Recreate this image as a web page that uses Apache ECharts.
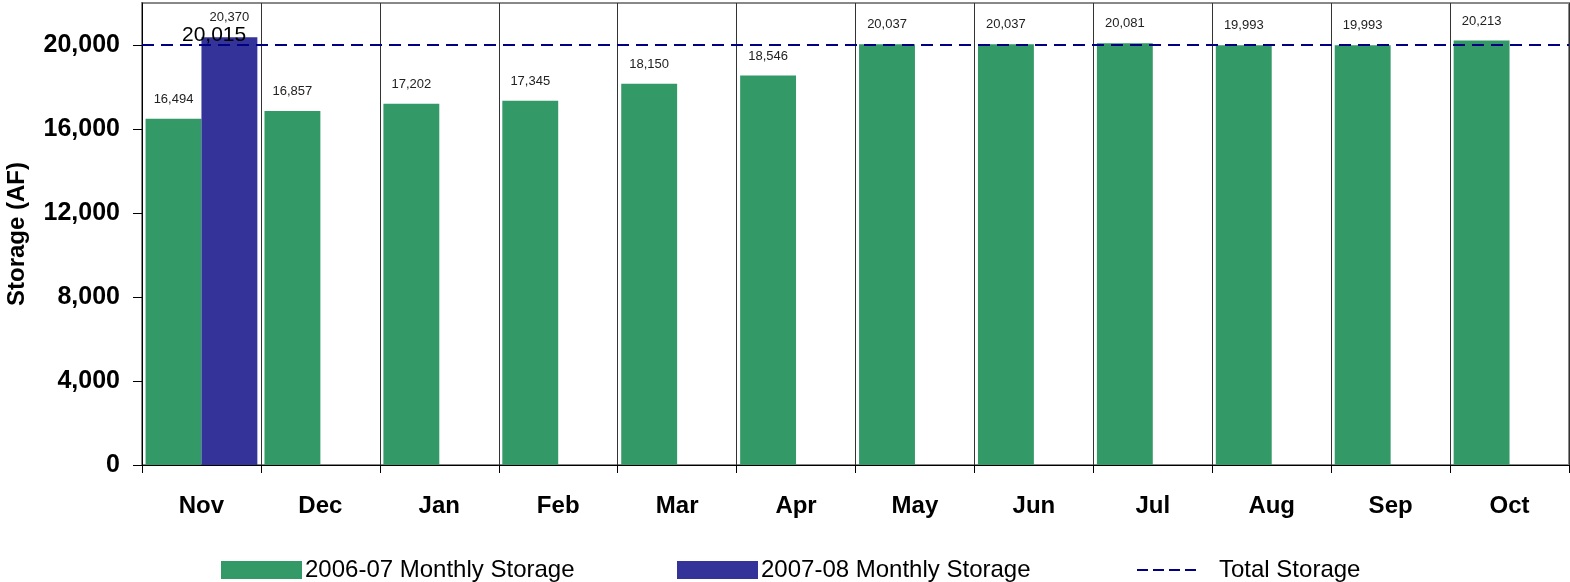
<!DOCTYPE html>
<html>
<head>
<meta charset="utf-8">
<script src="https://cdn.jsdelivr.net/npm/echarts@6/dist/echarts.min.js"></script>
<style>
  html, body { margin: 0; padding: 0; background: #fff; }
  #chart { width: 1570px; height: 582px; }
</style>
</head>
<body>
<div id="chart"></div>
<script>
// Monthly reservoir storage, acre-feet
const months = ['Nov', 'Dec', 'Jan', 'Feb', 'Mar', 'Apr', 'May', 'Jun', 'Jul', 'Aug', 'Sep', 'Oct'];
const storage2006_07 = [16494, 16857, 17202, 17345, 18150, 18546, 20037, 20037, 20081, 19993, 19993, 20213];
const storage2007_08 = [20370, null, null, null, null, null, null, null, null, null, null, null];
const totalStorage = 20015;
const yTicks = { min: 0, max: 22000, interval: 4000 };

const fmt = v => Number(v).toLocaleString('en-US');
const FONT = 'Liberation Sans, Arial, sans-serif';

// four short dashes for the capacity legend key
const DASH_ICON = 'path://M0,0h11v2h-11zM16,0h11v2h-11zM32,0h11v2h-11zM48,0h11v2h-11z';

const chart = echarts.init(document.getElementById('chart'), null, { renderer: 'canvas' });

const barLabel = {
  show: true,
  position: 'top',
  distance: 13,
  fontSize: 13,
  fontFamily: FONT,
  color: '#222',
  formatter: p => fmt(p.value)
};

const legendBase = {
  top: 553,
  itemHeight: 18,
  itemGap: 0,
  textStyle: { fontSize: 24, fontFamily: FONT, color: '#000', padding: [0, 0, 0, -2] }
};

chart.setOption({
  animation: false,
  backgroundColor: '#fff',
  grid: {
    left: 142, right: 1, top: 3, bottom: 117,
    outerBoundsMode: 'none',
    containLabel: false,
    show: true, borderColor: '#888', borderWidth: 2, backgroundColor: 'transparent'
  },
  legend: [
    Object.assign({}, legendBase, { left: 216, itemWidth: 81, icon: 'rect', data: ['2006-07 Monthly Storage'] }),
    Object.assign({}, legendBase, { left: 672, itemWidth: 81, icon: 'rect', data: ['2007-08 Monthly Storage'] }),
    Object.assign({}, legendBase, {
      left: 1132, itemWidth: 59, icon: DASH_ICON,
      textStyle: Object.assign({}, legendBase.textStyle, { padding: [0, 0, 0, 18] }),
      data: ['Total Storage']
    })
  ],
  xAxis: {
    type: 'category',
    data: months,
    axisLine: { lineStyle: { color: '#000', width: 1 } },
    axisTick: { show: true, length: 8, lineStyle: { color: '#000' } },
    axisLabel: { fontSize: 24, fontWeight: 'bold', fontFamily: FONT, color: '#000', margin: 29 },
    splitLine: { show: true, lineStyle: { color: '#333', width: 1 } }
  },
  yAxis: {
    type: 'value',
    min: yTicks.min, max: yTicks.max, interval: yTicks.interval,
    name: 'Storage (AF)',
    nameLocation: 'middle',
    nameGap: 113,
    nameTextStyle: { fontSize: 24, fontWeight: 'bold', fontFamily: FONT, color: '#000' },
    axisLine: { show: true, lineStyle: { color: '#000', width: 1 } },
    axisTick: { show: true, length: 9, lineStyle: { color: '#000' } },
    axisLabel: {
      fontSize: 25, fontWeight: 'bold', fontFamily: FONT, color: '#000', margin: 22,
      showMaxLabel: false,
      formatter: v => fmt(v)
    },
    splitLine: { show: false }
  },
  series: [
    {
      name: '2006-07 Monthly Storage',
      type: 'bar',
      data: storage2006_07,
      barGap: '0%',
      barCategoryGap: '6%',
      itemStyle: { color: '#339966' },
      label: barLabel
    },
    {
      name: '2007-08 Monthly Storage',
      type: 'bar',
      data: storage2007_08,
      barGap: '0%',
      barCategoryGap: '6%',
      itemStyle: { color: '#333399' },
      label: barLabel
    },
    {
      name: 'Total Storage',
      type: 'line',
      data: months.map(() => null),
      symbol: 'none',
      z: 5,
      lineStyle: { color: '#000080', width: 2, type: [12, 7] },
      itemStyle: { color: '#000080' },
      markLine: {
        silent: true,
        symbol: ['none', 'none'],
        lineStyle: { color: '#000080', width: 2, type: [12, 7] },
        label: {
          show: true,
          position: 'insideStartTop',
          distance: [40, -1],
          fontSize: 21,
          fontFamily: FONT,
          color: '#000',
          formatter: () => fmt(totalStorage)
        },
        data: [{ yAxis: totalStorage }]
      }
    }
  ]
});
</script>
</body>
</html>
